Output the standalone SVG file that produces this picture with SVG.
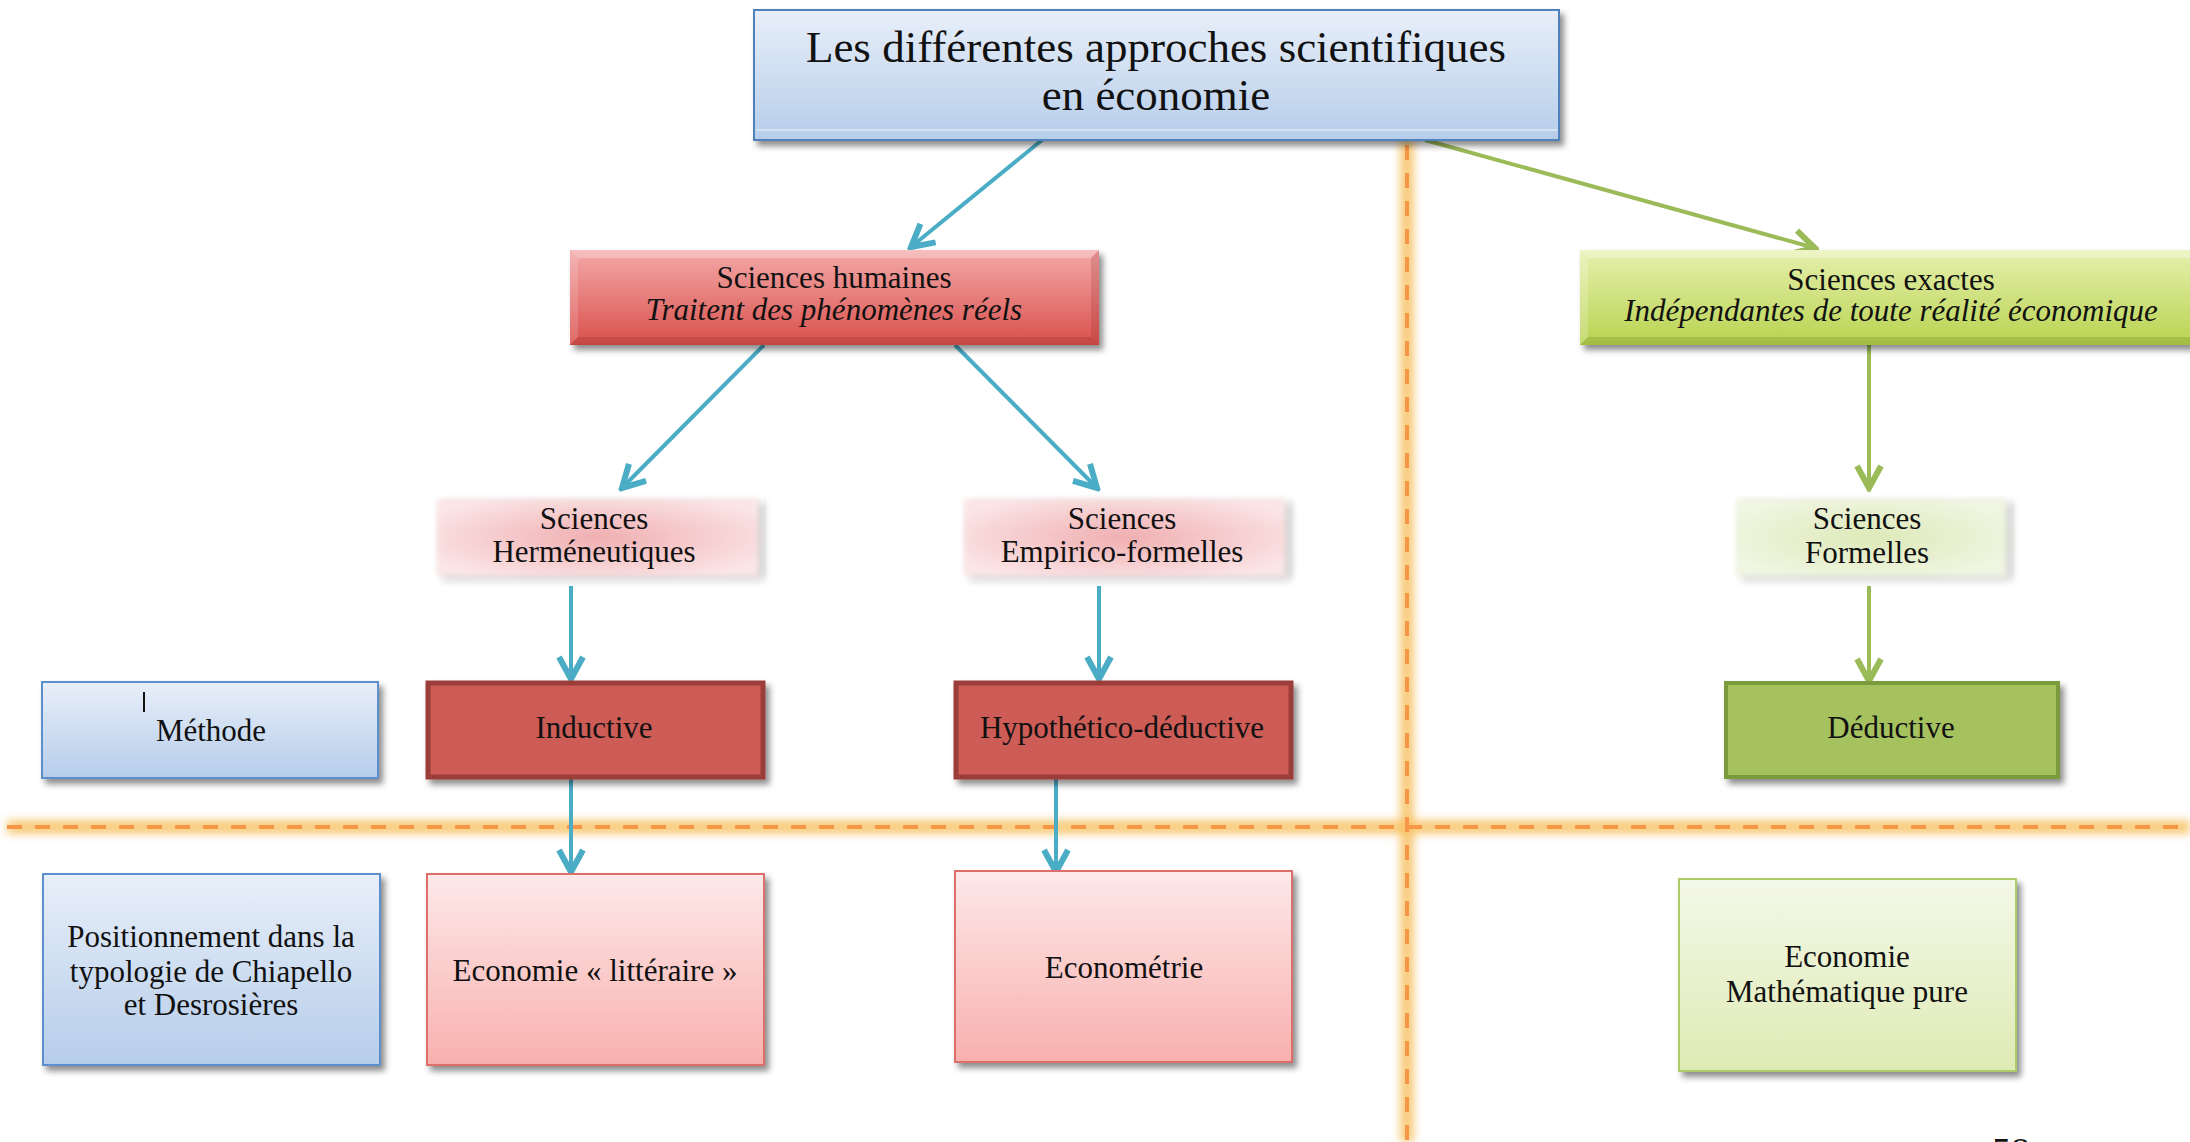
<svg xmlns="http://www.w3.org/2000/svg" width="2190" height="1142" viewBox="0 0 2190 1142">
<style>
text{font-family:"Liberation Serif","DejaVu Serif",serif;fill:#111;text-anchor:middle}
.t{font-size:45px}
.m{font-size:31px}
.i{font-style:italic}
.blue{stroke:#4BACC6;stroke-width:4;fill:none;marker-end:url(#ab)}
.green{stroke:#9BBB59;stroke-width:4;fill:none;marker-end:url(#ag)}
</style>
<defs>
<filter id="sh" x="-10%" y="-10%" width="125%" height="140%"><feDropShadow dx="4" dy="5" stdDeviation="3" flood-color="#000" flood-opacity="0.45"/></filter>
<filter id="soft" x="-10%" y="-20%" width="125%" height="150%"><feGaussianBlur in="SourceGraphic" stdDeviation="2.5" result="b"/><feDropShadow in="b" dx="5" dy="3" stdDeviation="3" flood-color="#000" flood-opacity="0.35"/></filter>
<filter id="glow" filterUnits="userSpaceOnUse" x="0" y="0" width="2190" height="1142"><feGaussianBlur stdDeviation="4"/></filter>
<linearGradient id="gBlue" x1="0" y1="0" x2="0" y2="1"><stop offset="0" stop-color="#E8EFF9"/><stop offset="1" stop-color="#B6CDEA"/></linearGradient>
<linearGradient id="gRed" x1="0" y1="0" x2="0" y2="1"><stop offset="0" stop-color="#F3A9A8"/><stop offset="1" stop-color="#D9504C"/></linearGradient>
<linearGradient id="gGreen" x1="0" y1="0" x2="0" y2="1"><stop offset="0" stop-color="#E6F0AE"/><stop offset="1" stop-color="#B9D350"/></linearGradient>
<linearGradient id="gPink" x1="0" y1="0" x2="0" y2="1"><stop offset="0" stop-color="#FDE9E9"/><stop offset="1" stop-color="#F8B0AE"/></linearGradient>
<linearGradient id="gLime" x1="0" y1="0" x2="0" y2="1"><stop offset="0" stop-color="#F4F8E8"/><stop offset="1" stop-color="#DEEAB4"/></linearGradient>
<radialGradient id="rPink" cx="0.5" cy="0.5" r="0.6"><stop offset="0" stop-color="#F0AEB1"/><stop offset="1" stop-color="#FBE6E7"/></radialGradient>
<radialGradient id="rGreen" cx="0.5" cy="0.5" r="0.6"><stop offset="0" stop-color="#DDE9B8"/><stop offset="1" stop-color="#F1F6E3"/></radialGradient>
<marker id="ab" viewBox="-28 -16 32 32" refX="0" refY="0" markerWidth="32" markerHeight="32" markerUnits="userSpaceOnUse" orient="auto"><path d="M-22,-12 L0,0 L-22,12" fill="none" stroke="#4BACC6" stroke-width="6"/></marker>
<marker id="ag" viewBox="-28 -16 32 32" refX="0" refY="0" markerWidth="32" markerHeight="32" markerUnits="userSpaceOnUse" orient="auto"><path d="M-22,-12 L0,0 L-22,12" fill="none" stroke="#9BBB59" stroke-width="6"/></marker>
</defs>
<rect width="2190" height="1142" fill="#fff"/>

<g id="guides">
<line x1="7" y1="827" x2="2190" y2="827" stroke="#F7BE5A" stroke-width="14" opacity="0.8" filter="url(#glow)"/>
<line x1="1407" y1="140" x2="1407" y2="1142" stroke="#F7BE5A" stroke-width="14" opacity="0.8" filter="url(#glow)"/>
<line x1="7" y1="827" x2="2190" y2="827" stroke="#F79646" stroke-width="4" stroke-dasharray="15 13"/>
<line x1="1407" y1="145" x2="1407" y2="1142" stroke="#F79646" stroke-width="4" stroke-dasharray="15 13"/>
</g>

<g id="connectors">
<line class="blue" x1="1042" y1="140" x2="911" y2="247"/>
<line class="blue" x1="764" y1="345" x2="622" y2="488"/>
<line class="blue" x1="955" y1="345" x2="1097" y2="488"/>
<line class="blue" x1="571" y1="586" x2="571" y2="679"/>
<line class="blue" x1="1099" y1="586" x2="1099" y2="679"/>
<line class="blue" x1="571" y1="779" x2="571" y2="872"/>
<line class="blue" x1="1056" y1="779" x2="1056" y2="872"/>
<line class="green" x1="1425" y1="140" x2="1815" y2="248"/>
<line class="green" x1="1869" y1="345" x2="1869" y2="488"/>
<line class="green" x1="1869" y1="586" x2="1869" y2="681"/>
</g>

<g id="n-title">
<rect x="754" y="10" width="805" height="130" fill="url(#gBlue)" stroke="#4F81BD" stroke-width="2" filter="url(#sh)"/>
<line x1="756" y1="130" x2="1557" y2="130" stroke="#DDE7F4" stroke-width="1.5"/>
<text class="t" x="1156" y="62">Les différentes approches scientifiques</text>
<text class="t" x="1156" y="110">en économie</text>
</g>

<g id="n-humaines">
<rect x="570" y="250" width="529" height="95" fill="url(#gRed)" filter="url(#sh)"/>
<path d="M570,250 L1099,250 L1091,258 L578,258 Z" fill="#fff" opacity="0.25"/>
<path d="M570,250 L578,258 L578,337 L570,345 Z" fill="#fff" opacity="0.15"/>
<path d="M1099,250 L1091,258 L1091,337 L1099,345 Z" fill="#8B2A27" opacity="0.2"/>
<path d="M570,345 L578,337 L1091,337 L1099,345 Z" fill="#8B2A27" opacity="0.25"/>
<text class="m" x="834" y="288">Sciences humaines</text>
<text class="m i" x="834" y="320">Traitent des phénomènes réels</text>
</g>

<g id="n-exactes">
<rect x="1580" y="250" width="620" height="95" fill="url(#gGreen)" filter="url(#sh)"/>
<path d="M1580,250 L2200,250 L2200,258 L1588,258 Z" fill="#fff" opacity="0.3"/>
<path d="M1580,250 L1588,258 L1588,337 L1580,345 Z" fill="#fff" opacity="0.2"/>
<path d="M1580,345 L1588,337 L2200,337 L2200,345 Z" fill="#5F7A1E" opacity="0.25"/>
<text class="m" x="1891" y="290">Sciences exactes</text>
<text class="m i" x="1891" y="321">Indépendantes de toute réalité économique</text>
</g>

<g id="n-hermeneutiques">
<rect x="437" y="499" width="321" height="77" fill="url(#rPink)" filter="url(#soft)"/>
<text class="m" x="594" y="529">Sciences</text>
<text class="m" x="594" y="562">Herméneutiques</text>
</g>

<g id="n-empirico">
<rect x="964" y="499" width="321" height="77" fill="url(#rPink)" filter="url(#soft)"/>
<text class="m" x="1122" y="529">Sciences</text>
<text class="m" x="1122" y="562">Empirico-formelles</text>
</g>

<g id="n-formelles">
<rect x="1736" y="499" width="270" height="77" fill="url(#rGreen)" filter="url(#soft)"/>
<text class="m" x="1867" y="529">Sciences</text>
<text class="m" x="1867" y="563">Formelles</text>
</g>

<g id="n-methode">
<rect x="42" y="682" width="336" height="96" fill="url(#gBlue)" stroke="#5B8FCB" stroke-width="2" filter="url(#sh)"/>
<line x1="144" y1="692" x2="144" y2="712" stroke="#111" stroke-width="2"/>
<text class="m" x="211" y="741">Méthode</text>
</g>

<g id="n-inductive">
<rect x="428" y="683" width="335" height="94" fill="#CD5C57" stroke="#9B3D39" stroke-width="5" filter="url(#sh)"/>
<text class="m" x="594" y="738">Inductive</text>
</g>

<g id="n-hypothetico">
<rect x="956" y="683" width="335" height="94" fill="#CD5C57" stroke="#9B3D39" stroke-width="5" filter="url(#sh)"/>
<text class="m" x="1122" y="738">Hypothético-déductive</text>
</g>

<g id="n-deductive">
<rect x="1726" y="683" width="332" height="94" fill="#A6C25E" stroke="#7A9A3A" stroke-width="4" filter="url(#sh)"/>
<text class="m" x="1891" y="738">Déductive</text>
</g>

<g id="n-positionnement">
<rect x="43" y="874" width="337" height="191" fill="url(#gBlue)" stroke="#5B8FCB" stroke-width="2" filter="url(#sh)"/>
<text class="m" x="211" y="947">Positionnement dans la</text>
<text class="m" x="211" y="982">typologie de Chiapello</text>
<text class="m" x="211" y="1015">et Desrosières</text>
</g>

<g id="n-litteraire">
<rect x="427" y="874" width="337" height="191" fill="url(#gPink)" stroke="#DE6E6A" stroke-width="2" filter="url(#sh)"/>
<text class="m" x="595" y="981">Economie « littéraire »</text>
</g>

<g id="n-econometrie">
<rect x="955" y="871" width="337" height="191" fill="url(#gPink)" stroke="#DE6E6A" stroke-width="2" filter="url(#sh)"/>
<text class="m" x="1124" y="978">Econométrie</text>
</g>

<g id="n-mathpure">
<rect x="1679" y="879" width="337" height="192" fill="url(#gLime)" stroke="#AECB6A" stroke-width="2" filter="url(#sh)"/>
<text class="m" x="1847" y="967">Economie</text>
<text class="m" x="1847" y="1002">Mathématique pure</text>
</g>

<text x="2011" y="1164" style="font-size:38px">58</text>
</svg>
